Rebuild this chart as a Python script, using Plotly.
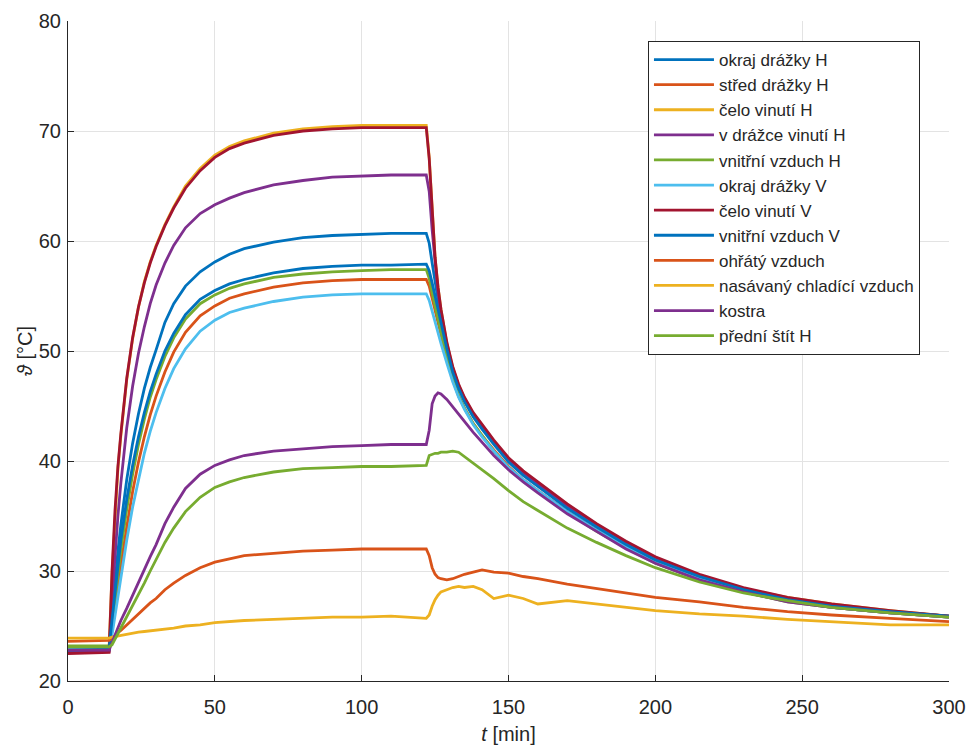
import plotly.graph_objects as go

# time axis [min]
t = [0, 14, 15, 16, 17, 18, 20, 22, 24, 26, 28, 30, 33, 36, 40, 45, 50, 55, 60, 70,
     80, 90, 100, 110, 122, 123, 124, 125, 126, 127, 129, 131, 133, 135, 138, 141,
     145, 150, 155, 160, 170, 180, 190, 200, 215, 230, 245, 260, 280, 300]

# measured temperatures [°C]
okraj_drazky_H = [22.7, 22.8, 26.0, 29.0, 31.8, 34.2, 38.3, 41.6, 44.3, 46.6, 48.5, 50.1,
                  52.6, 54.3, 55.9, 57.2, 58.1, 58.8, 59.3, 59.9, 60.3, 60.5, 60.6, 60.7,
                  60.7,
                  59.8, 58.0, 56.3, 54.5, 53.0, 50.4, 48.3, 46.8, 45.6, 44.2, 43.1, 41.7,
                  40.1, 38.9, 37.9, 35.9, 34.1, 32.5, 31.1, 29.6, 28.4, 27.5, 26.9, 26.3, 25.9]
stred_drazky_H = [23.0, 23.0, 24.6, 26.6, 28.6, 30.5, 34.0, 37.2, 39.9, 42.2, 44.2, 45.9,
                  48.1, 49.9, 51.7, 53.2, 54.1, 54.8, 55.2, 55.8, 56.2, 56.4, 56.5, 56.5,
                  56.5,
                  55.9, 54.8, 53.6, 52.5, 51.4, 49.3, 47.4, 45.9, 44.8, 43.4, 42.3, 41.0,
                  39.5, 38.3, 37.3, 35.4, 33.7, 32.2, 30.9, 29.3, 28.2, 27.3, 26.7, 26.2, 25.8]
celo_vinuti_H = [23.1, 23.1, 29.8, 35.2, 39.3, 42.3, 47.4, 51.1, 54.0, 56.3, 58.1, 59.6,
                 61.5, 63.1, 65.0, 66.6, 67.8, 68.6, 69.1, 69.8, 70.2, 70.4, 70.5, 70.5,
                 70.5,
                 67.6, 62.6, 58.5, 55.8, 53.8, 50.7, 48.5, 46.9, 45.7, 44.3, 43.2, 41.8,
                 40.2, 39.0, 38.0, 36.0, 34.2, 32.6, 31.2, 29.6, 28.4, 27.6, 27.0, 26.4, 25.9]
v_drazce_vinuti_H = [22.6, 22.7, 27.5, 31.5, 35.0, 38.0, 43.0, 46.8, 49.8, 52.2, 54.3, 56.0,
                     58.0, 59.6, 61.2, 62.5, 63.3, 63.9, 64.4, 65.1, 65.5, 65.8, 65.9, 66.0,
                     66.0,
                     64.5, 61.0, 57.8, 55.3, 53.4, 50.5, 48.3, 46.8, 45.6, 44.2, 43.1, 41.7,
                     40.1, 38.9, 37.9, 35.9, 34.1, 32.5, 31.1, 29.5, 28.4, 27.5, 26.9, 26.3, 25.9]
vnitrni_vzduch_H = [23.2, 23.2, 25.2, 27.5, 29.8, 31.9, 35.6, 38.8, 41.5, 43.8, 45.8, 47.4,
                    49.5, 51.2, 52.9, 54.3, 55.1, 55.7, 56.1, 56.7, 57.0, 57.2, 57.3, 57.4,
                    57.4,
                    56.6, 55.3, 54.0, 52.8, 51.7, 49.5, 47.5, 46.0, 44.8, 43.4, 42.3, 40.9,
                    39.4, 38.2, 37.2, 35.3, 33.6, 32.1, 30.7, 29.2, 28.1, 27.2, 26.7, 26.2, 25.8]
okraj_drazky_V = [22.9, 22.9, 24.2, 25.9, 27.7, 29.5, 32.8, 35.8, 38.4, 40.7, 42.7, 44.4,
                  46.6, 48.4, 50.2, 51.8, 52.8, 53.5, 53.9, 54.5, 54.9, 55.1, 55.2, 55.2,
                  55.2,
                  54.6, 53.6, 52.6, 51.6, 50.7, 48.9, 47.2, 45.8, 44.7, 43.3, 42.2, 40.9,
                  39.4, 38.3, 37.3, 35.4, 33.7, 32.2, 30.9, 29.3, 28.2, 27.3, 26.7, 26.2, 25.8]
celo_vinuti_V = [22.5, 22.6, 30.0, 35.5, 39.5, 42.5, 47.5, 51.2, 54.0, 56.2, 58.0, 59.5,
                 61.4, 63.0, 64.8, 66.4, 67.6, 68.4, 68.9, 69.6, 70.0, 70.2, 70.3, 70.3,
                 70.3,
                 67.5, 62.5, 58.5, 55.8, 53.8, 50.8, 48.6, 47.0, 45.8, 44.4, 43.3, 41.9,
                 40.3, 39.1, 38.1, 36.1, 34.3, 32.7, 31.3, 29.7, 28.5, 27.6, 27.0, 26.4, 25.9]
vnitrni_vzduch_V = [22.8, 22.9, 25.6, 28.2, 30.6, 32.8, 36.5, 39.6, 42.2, 44.4, 46.3, 47.9,
                    50.0, 51.6, 53.3, 54.7, 55.5, 56.1, 56.5, 57.1, 57.5, 57.7, 57.8, 57.8,
                    57.9,
                    57.3, 56.2, 55.0, 53.8, 52.6, 50.2, 48.1, 46.6, 45.4, 44.0, 42.9, 41.5,
                    39.9, 38.7, 37.7, 35.7, 34.0, 32.4, 31.0, 29.5, 28.3, 27.4, 26.8, 26.3, 25.9]
ohraty_vzduch = [23.6, 23.7, 23.9, 24.1, 24.4, 24.6, 25.1, 25.6, 26.1, 26.6, 27.1, 27.5,
                 28.3, 28.9, 29.6, 30.3, 30.8, 31.1, 31.4, 31.6, 31.8, 31.9, 32.0, 32.0,
                 32.0,
                 31.4, 30.3, 29.7, 29.4, 29.3, 29.2, 29.3, 29.5, 29.7, 29.9, 30.1, 29.9,
                 29.8, 29.5, 29.3, 28.8, 28.4, 28.0, 27.6, 27.2, 26.7, 26.3, 26.0, 25.7, 25.4]
nasavany_vzduch = [23.9, 23.9, 24.0, 24.05, 24.1, 24.2, 24.3, 24.4, 24.45, 24.5, 24.55, 24.6,
                   24.7, 24.8, 25.0, 25.1, 25.3, 25.4, 25.5, 25.6, 25.7, 25.8, 25.8, 25.9,
                   25.7,
                   26.0, 26.8, 27.4, 27.8, 28.1, 28.3, 28.5, 28.6, 28.5, 28.6, 28.3, 27.5,
                   27.8, 27.5, 27.0, 27.3, 27.0, 26.7, 26.4, 26.1, 25.9, 25.6, 25.4, 25.1, 25.1]
kostra = [22.8, 22.8, 23.5, 24.2, 24.9, 25.5, 26.6, 27.8, 29.0, 30.2, 31.3, 32.4,
          34.3, 35.8, 37.5, 38.8, 39.6, 40.1, 40.5, 40.9, 41.1, 41.3, 41.4, 41.5,
          41.5,
          42.8, 45.2, 45.9, 46.2, 46.1, 45.6, 44.9, 44.3, 43.6, 42.6, 41.7, 40.5,
          39.2, 38.1, 37.1, 35.2, 33.6, 32.0, 30.7, 29.2, 28.1, 27.2, 26.7, 26.2, 25.8]
predni_stit_H = [23.1, 23.1, 23.3, 23.8, 24.3, 24.8, 25.8, 26.8, 27.8, 28.9, 30.0, 31.0,
                 32.6, 33.9, 35.4, 36.7, 37.6, 38.1, 38.5, 39.0, 39.3, 39.4, 39.5, 39.5,
                 39.6,
                 40.5, 40.6, 40.7, 40.7, 40.8, 40.8, 40.9, 40.8, 40.4, 39.8, 39.2, 38.4,
                 37.3, 36.3, 35.5, 33.9, 32.6, 31.4, 30.3, 29.0, 28.0, 27.3, 26.7, 26.2, 25.8]

names = ["okraj drážky H", "střed drážky H", "čelo vinutí H", "v drážce vinutí H",
         "vnitřní vzduch H", "okraj drážky V", "čelo vinutí V", "vnitřní vzduch V",
         "ohřátý vzduch", "nasávaný chladící vzduch", "kostra", "přední štít H"]
series = [okraj_drazky_H, stred_drazky_H, celo_vinuti_H, v_drazce_vinuti_H,
          vnitrni_vzduch_H, okraj_drazky_V, celo_vinuti_V, vnitrni_vzduch_V,
          ohraty_vzduch, nasavany_vzduch, kostra, predni_stit_H]
colors = ["#0072BD", "#D95319", "#EDB120", "#7E2F8E", "#77AC30", "#4DBEEE",
          "#A2142F", "#0072BD", "#D95319", "#EDB120", "#7E2F8E", "#77AC30"]

fig = go.Figure()
for name, y, c in zip(names, series, colors):
    fig.add_trace(go.Scatter(x=t, y=y, name=name, mode="lines",
                             line=dict(color=c, width=2.8)))

font = "Liberation Sans, Arial, sans-serif"
ink = "#262626"
axis_common = dict(showgrid=True, gridcolor="#e3e3e3", gridwidth=1,
                   showline=True, linecolor=ink, linewidth=1,
                   ticks="inside", ticklen=6, tickcolor=ink,
                   zeroline=False, automargin=False,
                   tickfont=dict(family=font, size=20, color=ink))

fig.update_xaxes(range=[0, 300], tickvals=[0, 50, 100, 150, 200, 250, 300],
                 ticklabelstandoff=8,
                 title=dict(text="<i>t</i> [min]", font=dict(family=font, size=20, color=ink),
                            standoff=10),
                 **axis_common)
fig.update_yaxes(range=[20, 80], tickvals=[20, 30, 40, 50, 60, 70, 80],
                 ticklabelstandoff=2,
                 title=dict(text="<i>ϑ</i> [°C]", font=dict(family=font, size=20, color=ink),
                            standoff=0),
                 **axis_common)

fig.update_layout(
    width=966, height=745,
    margin=dict(l=68, r=17, t=21, b=64),
    paper_bgcolor="white", plot_bgcolor="white",
    showlegend=True,
    legend=dict(x=0.6583, y=0.9697, xanchor="left", yanchor="top",
                bgcolor="white", bordercolor=ink, borderwidth=1,
                font=dict(family=font, size=17, color=ink),
                itemwidth=60, tracegroupgap=0),
)

fig.write_html("out.html")
